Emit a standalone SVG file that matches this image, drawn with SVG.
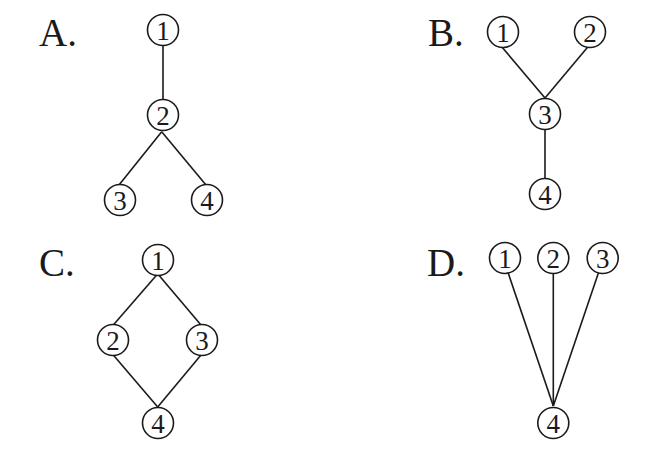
<svg xmlns="http://www.w3.org/2000/svg" width="662" height="452" viewBox="0 0 662 452">
<style>
.n circle{fill:#fff;stroke:#1a1a1a;stroke-width:1.6}
.n text{font-family:"Liberation Serif",serif;font-size:27px;fill:#1a1a1a;text-anchor:middle}
.lbl{font-family:"Liberation Serif",serif;font-size:39px;fill:#1a1a1a}
#edges line{stroke:#1a1a1a;stroke-width:1.6}
</style>
<rect width="662" height="452" fill="#fff"/>
<text class="lbl" x="39" y="46">A.</text>
<text class="lbl" x="428" y="46">B.</text>
<text class="lbl" x="39" y="276">C.</text>
<text class="lbl" x="427" y="276">D.</text>
<g id="edges">
<line x1="163" y1="45" x2="163" y2="100"/>
<line x1="161.7" y1="131.7" x2="119" y2="185"/>
<line x1="161.7" y1="131.7" x2="206" y2="185"/>
<line x1="501.7" y1="46.7" x2="545" y2="98"/>
<line x1="588" y1="46.7" x2="545" y2="98"/>
<line x1="545" y1="130" x2="545" y2="178"/>
<line x1="156.7" y1="275" x2="113.3" y2="325"/>
<line x1="158.7" y1="275" x2="201" y2="325"/>
<line x1="113.3" y1="355" x2="157.7" y2="407"/>
<line x1="201" y1="355" x2="157.7" y2="407"/>
<line x1="508.3" y1="273.3" x2="553.3" y2="406"/>
<line x1="553.3" y1="273.3" x2="553.3" y2="406"/>
<line x1="598.3" y1="273.3" x2="553.3" y2="406"/>
</g>
<g id="A1" class="n"><circle cx="163" cy="30" r="15.5"/><text x="163" y="39.5">1</text></g>
<g id="A2" class="n"><circle cx="163" cy="115" r="15.5"/><text x="163" y="124.5">2</text></g>
<g id="A3" class="n"><circle cx="120" cy="200" r="15.5"/><text x="120" y="209.5">3</text></g>
<g id="A4" class="n"><circle cx="207" cy="200" r="15.5"/><text x="207" y="209.5">4</text></g>
<g id="B1" class="n"><circle cx="503" cy="32" r="15.5"/><text x="503" y="41.5">1</text></g>
<g id="B2" class="n"><circle cx="590" cy="32" r="15.5"/><text x="590" y="41.5">2</text></g>
<g id="B3" class="n"><circle cx="545" cy="114" r="15.5"/><text x="545" y="123.5">3</text></g>
<g id="B4" class="n"><circle cx="545" cy="194" r="15.5"/><text x="545" y="203.5">4</text></g>
<g id="C1" class="n"><circle cx="158" cy="260" r="15.5"/><text x="158" y="269.5">1</text></g>
<g id="C2" class="n"><circle cx="113" cy="340" r="15.5"/><text x="113" y="349.5">2</text></g>
<g id="C3" class="n"><circle cx="202" cy="340" r="15.5"/><text x="202" y="349.5">3</text></g>
<g id="C4" class="n"><circle cx="158" cy="423" r="15.5"/><text x="158" y="432.5">4</text></g>
<g id="D1" class="n"><circle cx="505" cy="258" r="15.5"/><text x="505" y="267.5">1</text></g>
<g id="D2" class="n"><circle cx="553.3" cy="258" r="15.5"/><text x="553.3" y="267.5">2</text></g>
<g id="D3" class="n"><circle cx="602.7" cy="258" r="15.5"/><text x="602.7" y="267.5">3</text></g>
<g id="D4" class="n"><circle cx="553.3" cy="423" r="15.5"/><text x="553.3" y="432.5">4</text></g>
</svg>
